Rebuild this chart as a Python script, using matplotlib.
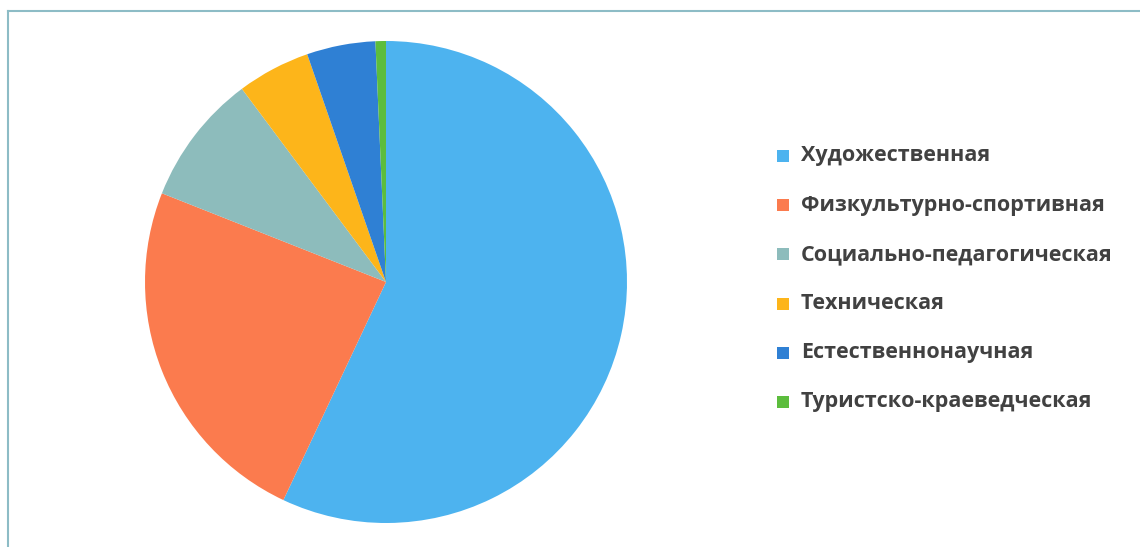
import matplotlib
matplotlib.use("Agg")
import matplotlib.pyplot as plt
from matplotlib.lines import Line2D
from matplotlib.patches import Rectangle

# данные (доли, %)
labels = ["Художественная", "Физкультурно-спортивная", "Социально-педагогическая",
          "Техническая", "Естественнонаучная", "Туристско-краеведческая"]
values = [57.0, 24.0, 8.8, 4.9, 4.6, 0.7]
colors = ["#4db3ef", "#fb7b4e", "#8dbcbc", "#fdb51a", "#2f80d4", "#5cbd3d"]

W, H = 1140, 547
fig = plt.figure(figsize=(W / 100, H / 100), dpi=100)

# круг: центр (386, 282), радиус 241 px
cx, cy, r = 386, 282, 241
ax = fig.add_axes([(cx - r) / W, (H - cy - r) / H, 2 * r / W, 2 * r / H])
wedges, _ = ax.pie(values, colors=colors, startangle=90, counterclock=False,
                   radius=1, wedgeprops=dict(linewidth=0))
ax.set_xlim(-1, 1)
ax.set_ylim(-1, 1)
ax.set_aspect("equal")
ax.axis("off")

# легенда
for i, (lab, col) in enumerate(zip(labels, colors)):
    y = 156 + i * 49.2
    fig.add_artist(Rectangle(((777) / W, (H - y - 6) / H), 12 / W, 12 / H,
                             transform=fig.transFigure, color=col, lw=0))
    fig.text(801 / W, (H - y) / H, lab, fontsize=15.5, fontfamily="Open Sans",
             fontweight="bold", color="#414141", va="center", ha="left")

# рамка
bc = "#8dbcc6"
fig.add_artist(Line2D([7.5 / W, 7.5 / W], [0, 1 - 10.5 / H], color=bc, lw=1.5))
fig.add_artist(Line2D([7.5 / W, 1], [1 - 10.5 / H, 1 - 10.5 / H], color=bc, lw=1.5))

fig.savefig("out.png", dpi=100)
